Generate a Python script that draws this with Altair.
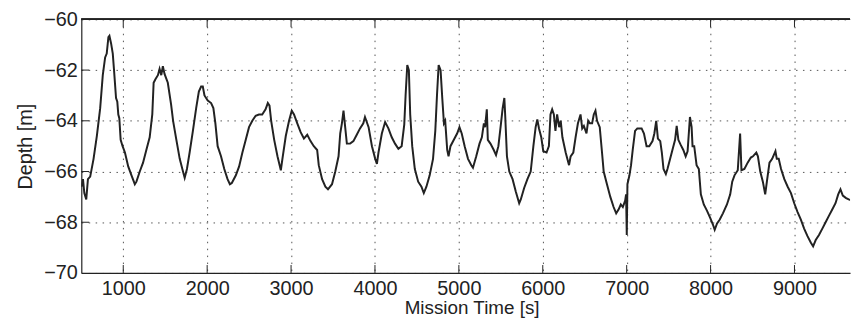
import altair as alt
import pandas as pd

# Mission time [s] and depth [m]
time_s = [500, 508, 520, 536, 559, 579, 606, 646, 685, 725, 756, 784, 803, 823, 835, 855, 875, 890, 914, 929,
          941, 953, 969, 992, 1020, 1059, 1098, 1138, 1157, 1197, 1236, 1275, 1315, 1346, 1362, 1385, 1413, 1433,
          1453, 1472, 1492, 1531, 1570, 1594, 1633, 1673, 1712, 1732, 1759, 1791, 1830, 1869, 1901, 1928, 1948,
          1968, 2007, 2047, 2074, 2098, 2125, 2165, 2204, 2243, 2271, 2294, 2342, 2381, 2420, 2460, 2499, 2538,
          2578, 2617, 2656, 2696, 2723, 2743, 2763, 2799, 2838, 2878, 2897, 2937, 2976, 3008, 3035, 3074, 3114,
          3153, 3193, 3232, 3271, 3311, 3330, 3370, 3409, 3440, 3488, 3527, 3566, 3586, 3606, 3625, 3645, 3665,
          3704, 3743, 3783, 3822, 3861, 3881, 3924, 3964, 4003, 4023, 4042, 4082, 4121, 4160, 4200, 4239, 4279,
          4318, 4349, 4365, 4385, 4404, 4420, 4444, 4475, 4515, 4554, 4582, 4613, 4652, 4692, 4719, 4739, 4759,
          4782, 4802, 4822, 4837, 4861, 4877, 4900, 4940, 4979, 5007, 5034, 5069, 5109, 5148, 5168, 5207, 5246,
          5274, 5298, 5313, 5333, 5345, 5376, 5416, 5443, 5471, 5502, 5522, 5542, 5553, 5573, 5601, 5640, 5679,
          5719, 5738, 5778, 5817, 5856, 5888, 5915, 5935, 5955, 5982, 6006, 6045, 6073, 6092, 6112, 6132, 6151,
          6171, 6195, 6214, 6234, 6273, 6313, 6332, 6364, 6391, 6419, 6450, 6470, 6490, 6521, 6541, 6561, 6588,
          6608, 6628, 6647, 6679, 6706, 6726, 6765, 6805, 6844, 6875, 6903, 6930, 6954, 6982, 6993, 7001, 7009,
          7033, 7052, 7072, 7100, 7127, 7178, 7206, 7237, 7269, 7308, 7330, 7352, 7372, 7400, 7419, 7439, 7467,
          7486, 7518, 7549, 7577, 7596, 7616, 7644, 7675, 7703, 7726, 7754, 7774, 7785, 7805, 7833, 7860, 7884,
          7919, 7958, 7998, 8029, 8049, 8077, 8108, 8147, 8195, 8234, 8258, 8285, 8324, 8352, 8368, 8403, 8442,
          8480, 8505, 8545, 8564, 8592, 8623, 8651, 8671, 8702, 8734, 8753, 8773, 8789, 8812, 8840, 8879, 8919,
          8958, 8997, 9037, 9076, 9115, 9155, 9194, 9222, 9253, 9292, 9332, 9371, 9410, 9450, 9489, 9521, 9548,
          9576, 9615, 9646, 9690]
depth_m = [-66.6, -66.5, -66.3, -66.85, -67.1, -66.3, -66.2, -65.5, -64.6, -63.5, -62.2, -61.5, -61.35, -60.7,
           -60.65, -60.95, -61.35, -62.0, -63.1, -63.25, -63.75, -63.9, -64.75, -65.0, -65.25, -65.8, -66.15,
           -66.5, -66.4, -66.0, -65.65, -65.15, -64.65, -63.75, -62.5, -62.35, -62.2, -61.95, -62.2, -61.85,
           -62.15, -62.5, -63.35, -64.0, -64.75, -65.5, -66.0, -66.25, -65.9, -65.25, -64.4, -63.5, -62.85,
           -62.65, -62.65, -63.0, -63.2, -63.3, -63.5, -64.1, -65.0, -65.4, -65.9, -66.3, -66.5, -66.45, -66.15,
           -65.8, -65.25, -64.75, -64.25, -64.0, -63.8, -63.75, -63.75, -63.55, -63.3, -63.4, -64.0, -64.75,
           -65.4, -65.95, -65.5, -64.6, -64.0, -63.6, -63.75, -64.1, -64.45, -64.7, -64.55, -64.8, -65.0, -65.15,
           -65.75, -66.3, -66.6, -66.7, -66.5, -66.0, -65.4, -64.5, -64.1, -63.6, -64.25, -64.9, -64.9, -64.8,
           -64.55, -64.3, -64.1, -63.85, -64.25, -65.0, -65.5, -65.7, -65.25, -64.5, -64.05, -64.3, -64.65,
           -64.9, -65.1, -65.0, -64.15, -63.0, -61.8, -62.0, -63.75, -65.0, -65.9, -66.4, -66.6, -66.85, -66.6,
           -66.15, -65.5, -64.4, -63.0, -61.8, -62.0, -63.1, -64.1, -64.0, -65.15, -65.4, -65.0, -64.75, -64.5,
           -64.25, -64.5, -65.0, -65.5, -65.75, -65.85, -65.4, -64.9, -64.65, -64.1, -64.25, -63.55, -64.75,
           -64.9, -65.15, -65.35, -65.0, -64.1, -63.5, -63.1, -63.85, -65.4, -66.0, -66.3, -66.8, -67.25, -67.1,
           -66.65, -66.3, -66.0, -65.0, -64.25, -63.95, -64.3, -64.65, -65.2, -65.25, -65.0, -63.75, -63.55,
           -63.75, -64.4, -63.75, -64.25, -64.0, -64.65, -65.25, -65.75, -65.4, -65.25, -64.65, -64.1, -63.75,
           -64.3, -64.2, -64.5, -64.0, -64.1, -64.1, -63.75, -63.6, -64.0, -64.25, -65.25, -66.0, -66.5, -67.0,
           -67.4, -67.65, -67.5, -67.3, -67.4, -67.15, -66.9, -68.5, -66.5, -66.15, -65.75, -65.15, -64.4, -64.3,
           -64.3, -64.5, -65.0, -65.0, -64.8, -64.5, -64.0, -64.7, -64.8, -65.25, -65.9, -66.1, -65.9, -65.5,
           -65.1, -64.75, -64.2, -64.75, -64.95, -65.15, -65.4, -65.2, -63.85, -64.25, -65.0, -65.0, -65.75,
           -65.9, -66.9, -67.3, -67.55, -67.85, -68.1, -68.3, -68.05, -67.9, -67.65, -67.3, -66.9, -66.4, -66.15,
           -65.95, -64.5, -65.95, -65.9, -65.65, -65.45, -65.4, -65.25, -65.4, -66.0, -66.4, -66.9, -66.4,
           -65.65, -65.5, -65.35, -65.2, -65.5, -65.5, -65.9, -66.3, -66.6, -66.85, -67.25, -67.6, -67.9, -68.25,
           -68.55, -68.8, -68.95, -68.7, -68.5, -68.25, -68.0, -67.75, -67.5, -67.25, -66.9, -66.7, -66.95,
           -67.05, -67.1, -67.15]

x_ticks = [1000, 2000, 3000, 4000, 5000, 6000, 7000, 8000, 9000]
y_ticks = [-70, -68, -66, -64, -62, -60]
x_domain = [500, 9662]
y_domain = [-70, -60]

W, H = 776, 256
FONT = "Liberation Sans"
INK = "#222222"

df = pd.DataFrame({"t": time_s, "d": depth_m})
xt = pd.DataFrame({"t": x_ticks})
yt = pd.DataFrame({"d": y_ticks[1:-1]})

xscale = alt.Scale(domain=x_domain, nice=False, zero=False)
yscale = alt.Scale(domain=y_domain, nice=False, zero=False)

line = alt.Chart(df).mark_line(color=INK, strokeWidth=2, clip=True).encode(
    x=alt.X("t:Q", scale=xscale, title="Mission Time [s]",
            axis=alt.Axis(values=x_ticks, format="d", titleX=394)),
    y=alt.Y("d:Q", scale=yscale, title="Depth [m]",
            axis=alt.Axis(values=y_ticks, format="d")),
)

xtick_bottom = alt.Chart(xt).mark_rule(color=INK, strokeWidth=1).encode(
    x=alt.X("t:Q", scale=xscale), y=alt.value(H), y2=alt.value(H - 8))
xtick_top = alt.Chart(xt).mark_rule(color=INK, strokeWidth=1).encode(
    x=alt.X("t:Q", scale=xscale), y=alt.value(0), y2=alt.value(8))
ytick_left = alt.Chart(yt).mark_rule(color=INK, strokeWidth=1).encode(
    y=alt.Y("d:Q", scale=yscale), x=alt.value(0), x2=alt.value(8))
top_border = alt.Chart(xt).mark_rule(color=INK, strokeWidth=1.2).encode(
    x=alt.value(0), x2=alt.value(W), y=alt.value(0))

chart = alt.layer(line, xtick_bottom, xtick_top, ytick_left, top_border).properties(
    width=W, height=H,
    autosize=alt.AutoSizeParams(type="none"),
    padding={"left": 74, "top": 10, "right": 3, "bottom": 46},
).configure_view(stroke=None).configure_axis(
    labelFont=FONT, titleFont=FONT, labelFontSize=20, titleFontSize=19,
    labelColor=INK, titleColor=INK, titleFontWeight="normal",
    domainColor=INK, domainWidth=1.2, tickSize=0,
    grid=True, gridColor="#555555", gridDash=[1.5, 5.5], gridWidth=1, gridOpacity=1,
).configure_axisX(labelPadding=6, titlePadding=0).configure_axisY(
    labelPadding=4, titlePadding=8, titleFontSize=20)

chart.save("out.html", embed_options={"renderer": "svg", "actions": False})
